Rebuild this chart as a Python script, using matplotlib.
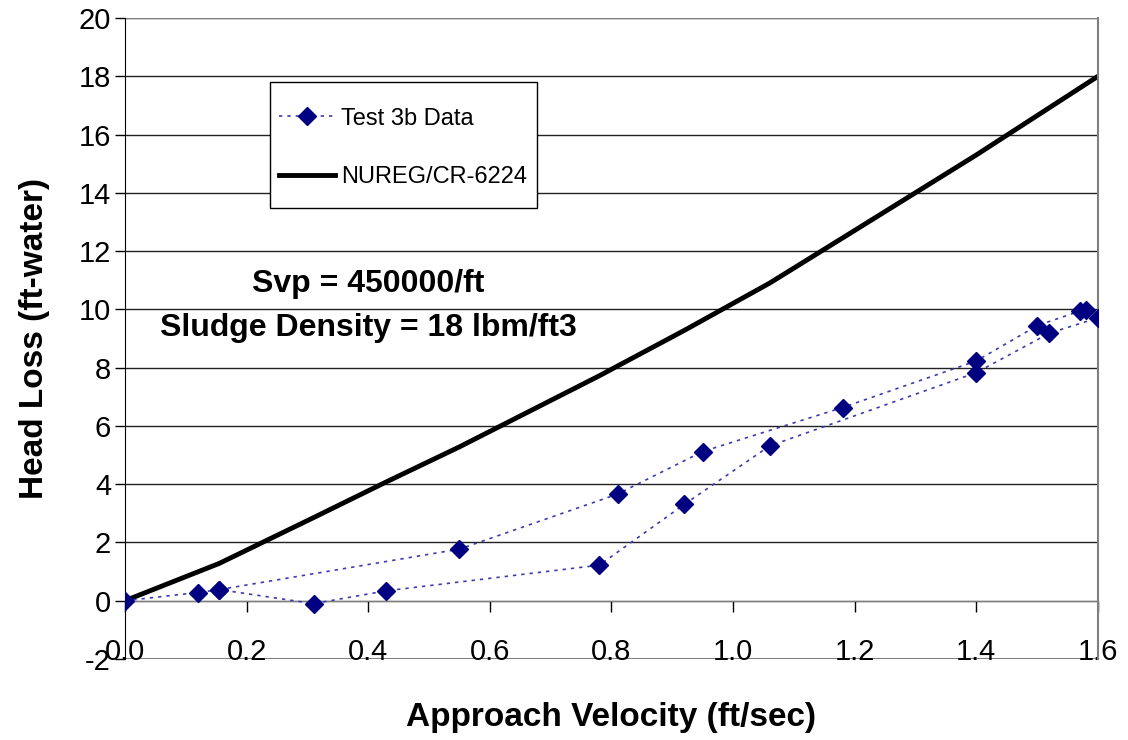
import matplotlib.pyplot as plt
from matplotlib.patches import Rectangle

plt.rcParams['font.family'] = ['Liberation Sans', 'DejaVu Sans']
plt.rcParams['axes.unicode_minus'] = False

# Test 3b measured data (in the order the points were taken)
velocity = [0.0, 0.12, 0.155, 0.31, 0.43, 0.78, 0.92, 1.06, 1.40, 1.52,
            1.60, 1.58, 1.57, 1.50, 1.40, 1.18, 0.95, 0.81, 0.55, 0.155]
head_loss = [0.0, 0.28, 0.38, -0.10, 0.34, 1.22, 3.31, 5.31, 7.83, 9.18,
             9.71, 9.98, 9.94, 9.44, 8.23, 6.63, 5.12, 3.66, 1.77, 0.38]

# NUREG/CR-6224 prediction
nureg_velocity = [0.0, 0.155, 0.31, 0.43, 0.55, 0.78, 0.92, 1.06, 1.18, 1.40, 1.60]
nureg_head_loss = [0.0, 1.28, 2.85, 4.08, 5.28, 7.72, 9.28, 10.9, 12.45, 15.3, 18.0]

x_ticks = [0.0, 0.2, 0.4, 0.6, 0.8, 1.0, 1.2, 1.4, 1.6]
y_ticks = list(range(-2, 21, 2))

fig = plt.figure(figsize=(11.28, 7.4), dpi=100)
ax = fig.add_axes([0.1108, 0.1095, 0.8626, 0.8662])

for yv in y_ticks[1:]:
    ax.axhline(yv, color='#222222', linewidth=1.0, zorder=1)
ax.axhline(20, color='#808080', linewidth=1.5, zorder=1)
ax.axhline(-2, color='#808080', linewidth=1.5, zorder=1)

ax.plot(velocity, head_loss, color='#3b3bb0', linestyle=(0, (2, 3)), linewidth=1.2,
        marker='D', markersize=9, markerfacecolor='#000080', markeredgecolor='#000080',
        label='Test 3b Data', zorder=3)
ax.plot(nureg_velocity, nureg_head_loss, color='black', linewidth=3.5,
        label='NUREG/CR-6224', zorder=2)

ax.set_xlim(0, 1.6)
ax.set_ylim(-2, 20)
ax.set_xticks(x_ticks)
ax.set_xticklabels(['%.1f' % v for v in x_ticks])
ax.set_yticks(y_ticks)

ax.spines['bottom'].set_position(('data', 0))
ax.spines['bottom'].set_color('#808080')
ax.spines['right'].set_color('#808080')
ax.spines['right'].set_linewidth(1.5)
ax.spines['top'].set_visible(False)
ax.spines['left'].set_color('black')

ax.tick_params(axis='x', direction='out', length=8, width=1, pad=19, labelsize=21)
ax.tick_params(axis='y', direction='out', length=7, width=1, pad=3, labelsize=21)

ax.set_xlabel('Approach Velocity (ft/sec)', fontsize=24, fontweight='bold', labelpad=26)
ax.set_ylabel('Head Loss (ft-water)', fontsize=24, fontweight='bold', labelpad=21)

ax.text(0.40, 10.87, 'Svp = 450000/ft', fontsize=23, fontweight='bold',
        ha='center', va='center')
ax.text(0.40, 9.36, 'Sludge Density = 18 lbm/ft3', fontsize=23, fontweight='bold',
        ha='center', va='center')

# legend box drawn separately so its size matches the original
ax.add_patch(Rectangle((0.149, 0.704), 0.274, 0.196, transform=ax.transAxes,
                       facecolor='white', edgecolor='black', linewidth=1.0, zorder=4))
leg = ax.legend(loc='upper left', bbox_to_anchor=(0.158, 0.860), fontsize=17,
                frameon=False, labelspacing=1.55, handlelength=2.4, handletextpad=0.25,
                borderpad=0, borderaxespad=0)
leg.set_zorder(5)

fig.savefig('out.png', dpi=100)
